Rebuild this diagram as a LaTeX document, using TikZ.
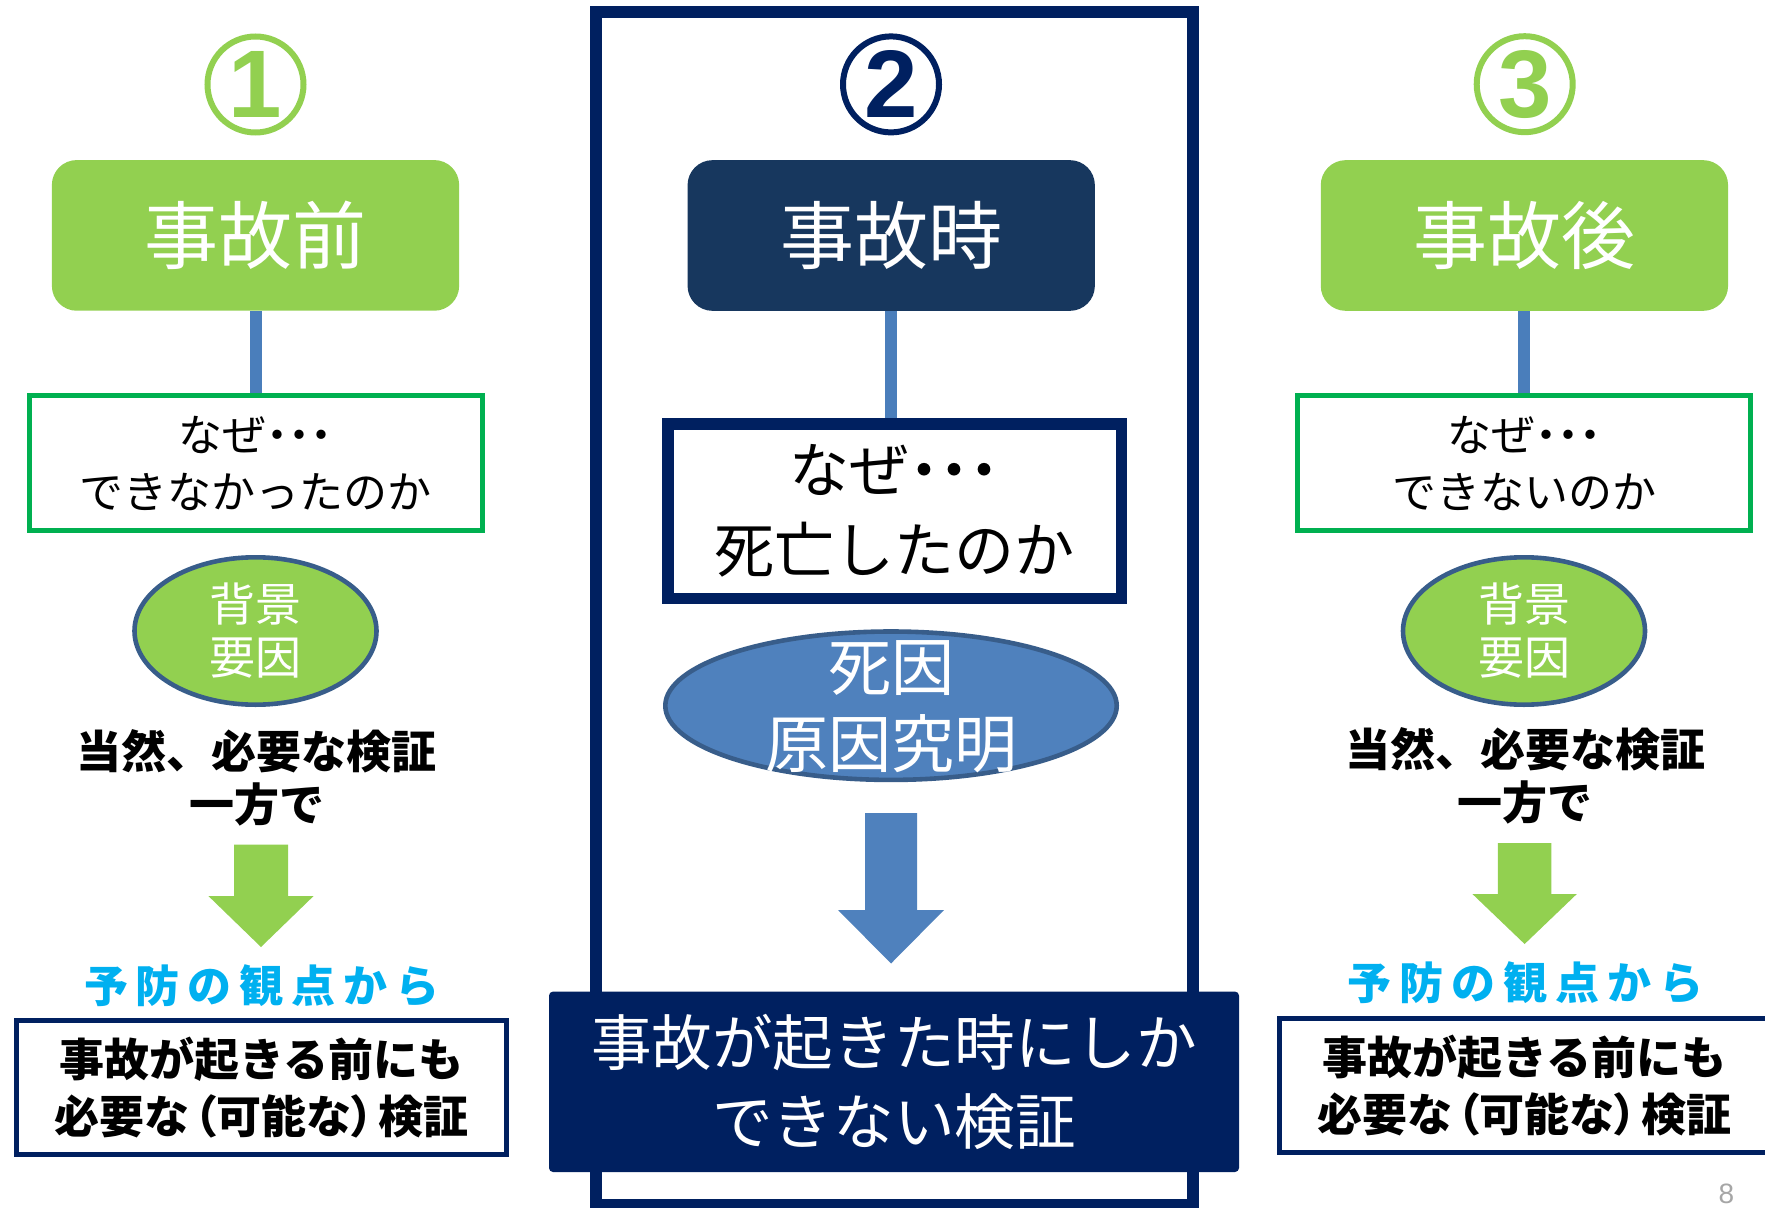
\documentclass[tikz,border=0pt]{standalone}
\usepackage{fontspec}
\setmainfont{Noto Sans CJK JP}
\newfontfamily\digitfont{Liberation Sans}
\usetikzlibrary{shapes.geometric,backgrounds}
\definecolor{lgreen}{HTML}{92D050}
\definecolor{bgreen}{HTML}{00B050}
\definecolor{navy}{HTML}{002060}
\definecolor{slate}{HTML}{17375E}
\definecolor{conblue}{HTML}{4A7EBB}
\definecolor{shblue}{HTML}{4F81BD}
\definecolor{edgeblue}{HTML}{385D8A}
\definecolor{cyantext}{HTML}{00B0F0}
\definecolor{pagegray}{HTML}{A6A6A6}
\newcommand{\nazedots}{なぜ{\addfontfeatures{RawFeature=+palt}・・・}}
\newcommand{\lpar}{\kern0.1em{\addfontfeatures{RawFeature=+palt}（}}
\newcommand{\rpar}{{\addfontfeatures{RawFeature=+palt}）}\kern0.1em}
\newcommand{\lsp}{\kern4pt}
\begin{document}
\begin{tikzpicture}[x=0.5pt,y=-0.5pt,
  numcircle/.style={circle, draw=#1, text=#1, line width=3pt, minimum size=48pt, inner sep=0pt,
    font=\digitfont\bfseries\fontsize{48}{50}\selectfont},
  titlebox/.style={rounded corners=12.5pt, fill=#1, minimum width=203.65pt, minimum height=75.35pt,
    inner sep=0pt, text=white, font=\fontsize{37}{44}\selectfont},
  whybox/.style={draw=bgreen, line width=2.5pt, fill=white, minimum width=226.5pt, minimum height=67.5pt,
    inner sep=0pt, align=center, font=\fontsize{22}{28.5}\selectfont},
  conn/.style={draw=conblue, line width=6pt},
  ellgreen/.style={ellipse, fill=lgreen, draw=edgeblue, line width=2.3pt, minimum width=121pt,
    minimum height=73.7pt, inner sep=0pt},
  elltext/.style={text=white, align=center, inner sep=0pt, font=\fontsize{23}{26.5}\selectfont},
  restext/.style={align=center, inner sep=0pt, font=\bfseries\fontsize{22.5}{26.5}\selectfont},
  prevtext/.style={text=cyantext, inner sep=0pt, font=\bfseries\fontsize{22}{26}\selectfont},
  botbox/.style={draw=navy, line width=2.3pt, fill=white, minimum width=245pt, minimum height=67pt,
    inner sep=0pt, align=center, font=\bfseries\fontsize{22.5}{28.5}\selectfont},
]
\useasboundingbox (0,0) rectangle (1765,1208);
\clip (0,0) rectangle (1765,1208);

% central frame
\node[draw=navy, line width=5.75pt, minimum width=298.5pt, minimum height=596.5pt, inner sep=0pt]
  (frame) at (894.5,608.5) {};

% ---------- column 1 ----------
\node[numcircle=lgreen] (c1) at (255.5,84.5) {1};
\node[titlebox=lgreen] (box1) at (255.5,235.4) {事故前};
\node[whybox] (why1) at (255.7,463) {\nazedots\\できなかったのか};
\node[ellgreen] (ell1) at (255.5,631) {};
\node[elltext] (ell1t) at (ell1.center) {背景\\要因};
\node[restext] (res1) at (256.5,777.5) {当然、必要な検証\\一方で};
\fill[lgreen] (234,844.6) -- (288,844.6) -- (288,896) -- (313.6,896) -- (261,947)
  -- (208.4,896) -- (234,896) -- cycle;
\node[prevtext] (prev1) at (262,986) {予\lsp 防\lsp の\lsp 観\lsp 点\lsp か\lsp ら};
\node[botbox] (bot1) at (261.7,1087.2) {事故が起きる前にも\\必要な\lpar 可能な\rpar 検証};

% ---------- column 2 ----------
\node[numcircle=navy] (c2) at (891,84.4) {2};
\node[titlebox=slate] (box2) at (891.2,235.5) {事故時};
\node[draw=navy, line width=5.75pt, fill=white, minimum width=226.75pt, minimum height=87.25pt,
  inner sep=0pt, align=center, font=\fontsize{30}{40}\selectfont] (why2) at (894.5,511)
  {\nazedots\\死亡したのか};
\node[ellipse, fill=shblue, draw=edgeblue, line width=2.3pt, minimum width=225.7pt,
  minimum height=74.2pt, inner sep=0pt] (ell2) at (891,705.7) {};
\node[text=white, align=center, inner sep=0pt, font=\fontsize{31.5}{38.5}\selectfont]
  (ell2t) at (891,706.5) {死因\\原因究明};
\fill[shblue] (865,813) -- (917,813) -- (917,910) -- (944,910) -- (891,963.5)
  -- (838,910) -- (865,910) -- cycle;
\node[fill=navy, rounded corners=2pt, minimum width=345pt, minimum height=90.2pt, inner sep=0pt,
  text=white, align=center, font=\fontsize{30.3}{39.5}\selectfont] (banner) at (894,1081.8)
  {事故が起きた時にしか\\できない検証};

% ---------- column 3 ----------
\node[numcircle=lgreen] (c3) at (1524.7,84.2) {3};
\node[titlebox=lgreen] (box3) at (1524.4,235.5) {事故後};
\node[whybox] (why3) at (1524.2,463) {\nazedots\\できないのか};
\node[ellgreen] (ell3) at (1524,631) {};
\node[elltext] (ell3t) at (ell3.center) {背景\\要因};
\node[restext] (res3) at (1525,776) {当然、必要な検証\\一方で};
\fill[lgreen] (1497.8,843) -- (1551.3,843) -- (1551.3,894) -- (1576.8,894) -- (1524.6,944)
  -- (1472.4,894) -- (1497.8,894) -- cycle;
\node[prevtext] (prev3) at (1525.4,983) {予\lsp 防\lsp の\lsp 観\lsp 点\lsp か\lsp ら};
\node[botbox] (bot3) at (1524.4,1085.5) {事故が起きる前にも\\必要な\lpar 可能な\rpar 検証};

\node[text=pagegray, inner sep=0pt, font=\digitfont\fontsize{14}{16}\selectfont] (pg) at (1726.5,1194) {8};

% background and connectors
\begin{scope}[on background layer]
  \fill[white] (0,0) rectangle (1765,1208);
  \draw[conn] (box1.south) -- (box1.south |- why1.north);
  \draw[conn] (box2.south) -- (box2.south |- why2.north);
  \draw[conn] (box3.south) -- (box3.south |- why3.north);
\end{scope}
\end{tikzpicture}
\end{document}
